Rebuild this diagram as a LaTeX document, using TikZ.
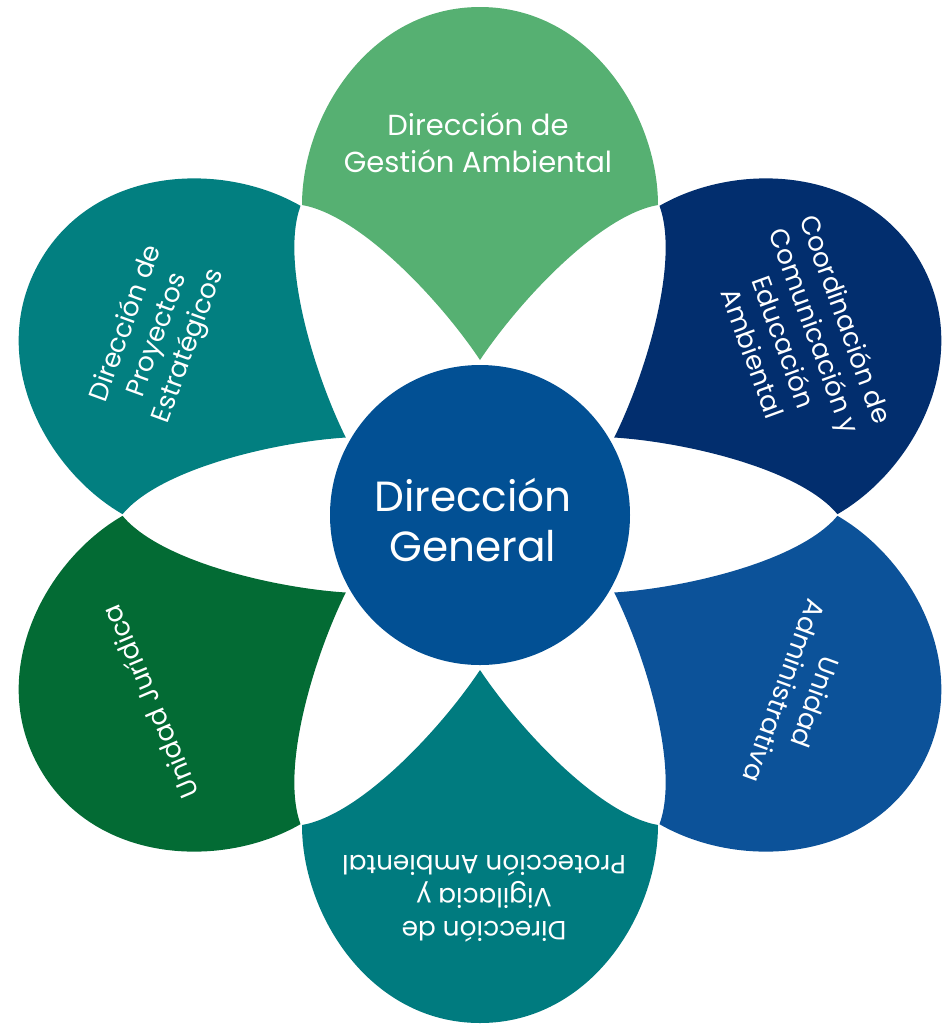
\documentclass[tikz,border=0pt]{standalone}
\usepackage{fontspec}
\setmainfont{Poppins}

\definecolor{gestion}{RGB}{86,176,114}
\definecolor{comunicacion}{RGB}{2,46,110}
\definecolor{administrativa}{RGB}{12,82,153}
\definecolor{vigilancia}{RGB}{0,123,127}
\definecolor{juridica}{RGB}{3,107,52}
\definecolor{proyectos}{RGB}{2,127,128}
\definecolor{general}{RGB}{2,80,148}

\begin{document}
\begin{tikzpicture}[scale=0.2]
        \tikzstyle{every node}+=[inner sep=0pt, text=white, align=center]
        \tikzstyle{petal text}=[font=\fontsize{15}{18.8}\selectfont]
        \useasboundingbox (0,0) rectangle (94.6,-102.4);
        % petals, tip towards the middle
        \fill [gestion, shift={(48,-51.5)}, rotate=0] (0,15.5) .. controls (-4,21.5) and (-12,30) .. (-17.8,31) .. controls (-17.8,40) and (-11,50.8) .. (0,50.8) .. controls (11,50.8) and (17.8,40) .. (17.8,31) .. controls (12,30) and (4,21.5) .. (0,15.5) -- cycle;
        \fill [comunicacion, shift={(48,-51.5)}, rotate=-60] (0,15.5) .. controls (-4,21.5) and (-12,30) .. (-17.8,31) .. controls (-17.8,40) and (-11,50.8) .. (0,50.8) .. controls (11,50.8) and (17.8,40) .. (17.8,31) .. controls (12,30) and (4,21.5) .. (0,15.5) -- cycle;
        \fill [administrativa, shift={(48,-51.5)}, rotate=-120] (0,15.5) .. controls (-4,21.5) and (-12,30) .. (-17.8,31) .. controls (-17.8,40) and (-11,50.8) .. (0,50.8) .. controls (11,50.8) and (17.8,40) .. (17.8,31) .. controls (12,30) and (4,21.5) .. (0,15.5) -- cycle;
        \fill [vigilancia, shift={(48,-51.5)}, rotate=180] (0,15.5) .. controls (-4,21.5) and (-12,30) .. (-17.8,31) .. controls (-17.8,40) and (-11,50.8) .. (0,50.8) .. controls (11,50.8) and (17.8,40) .. (17.8,31) .. controls (12,30) and (4,21.5) .. (0,15.5) -- cycle;
        \fill [juridica, shift={(48,-51.5)}, rotate=120] (0,15.5) .. controls (-4,21.5) and (-12,30) .. (-17.8,31) .. controls (-17.8,40) and (-11,50.8) .. (0,50.8) .. controls (11,50.8) and (17.8,40) .. (17.8,31) .. controls (12,30) and (4,21.5) .. (0,15.5) -- cycle;
        \fill [proyectos, shift={(48,-51.5)}, rotate=60] (0,15.5) .. controls (-4,21.5) and (-12,30) .. (-17.8,31) .. controls (-17.8,40) and (-11,50.8) .. (0,50.8) .. controls (11,50.8) and (17.8,40) .. (17.8,31) .. controls (12,30) and (4,21.5) .. (0,15.5) -- cycle;
        % centre
        \fill [general] (48,-51.5) circle (15);
        \node (general) at (47.3,-52) [font=\fontsize{24}{28.5}\selectfont] {Dirección\\General};
        % labels
        \node (gestion) at (47.8,-14.3) [font=\fontsize{16.5}{21}\selectfont] {Dirección de\\Gestión Ambiental};
        \node (comunicacion) at (80,-33.6) [petal text, rotate=-70] {Coordinación de\\Comunicación y\\Educación\\Ambiental};
        \node (administrativa) at (80,-69.7) [petal text, rotate=-110] {Unidad\\Administrativa};
        \node (vigilancia) at (48.4,-89.9) [petal text, rotate=180] {Dirección de\\Vigilacia y\\Protección Ambiental};
        \node (juridica) at (15,-70.2) [petal text, rotate=113] {Unidad Jurídica};
        \node (proyectos) at (15.8,-33.5) [petal text, rotate=70] {Dirección de\\Proyectos\\Estratégicos};
\end{tikzpicture}
\end{document}
